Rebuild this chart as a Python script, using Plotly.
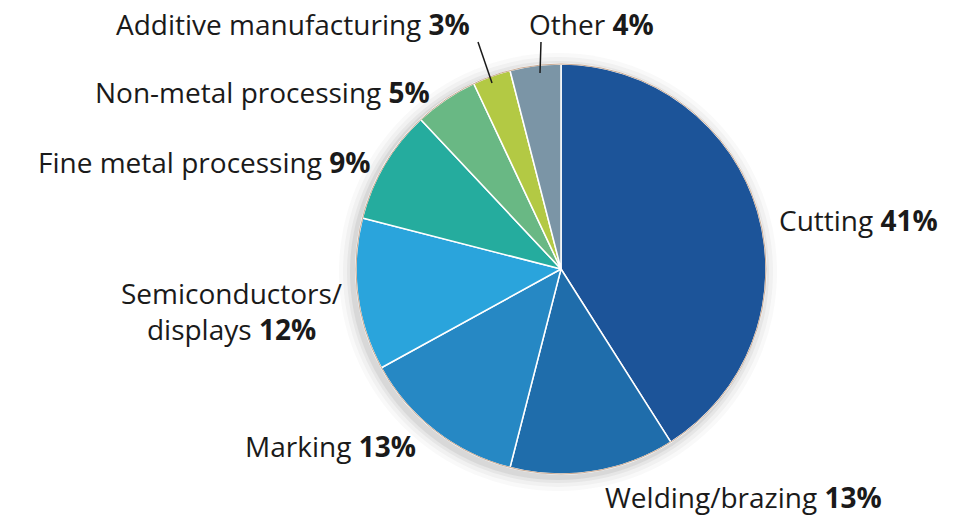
import plotly.graph_objects as go

categories = ["Cutting", "Welding/brazing", "Marking", "Semiconductors/displays",
              "Fine metal processing", "Non-metal processing", "Additive manufacturing", "Other"]
values = [41, 13, 13, 12, 9, 5, 3, 4]
colors = ["#1c5499", "#1f6dab", "#2688c4", "#2aa4dc", "#25ac9e", "#69b884", "#b3c944", "#7b95a6"]

W, H = 959, 516
cx, cy, r = 561, 269, 205

def px(x):
    return x / W

def py(y):
    return 1 - y / H

shadow = [(14, 0.03), (10, 0.04), (6, 0.055), (3, 0.075)]

fig = go.Figure(go.Pie(
    labels=categories, values=values, sort=False, direction="clockwise", rotation=0,
    marker=dict(colors=colors, line=dict(color="white", width=1.5)),
    textinfo="none", hoverinfo="label+percent", showlegend=False,
    domain=dict(x=[px(cx - r), px(cx + r)], y=[py(cy + r), py(cy - r)]),
))

# soft drop shadow behind the pie (offset down-left)
for k, op in shadow:
    fig.add_shape(type="circle", xref="paper", yref="paper", layer="below",
                  x0=px(cx - r - k - 3), x1=px(cx + r + k - 3),
                  y0=py(cy + r + k + 3), y1=py(cy - r - k + 3),
                  fillcolor=f"rgba(60,60,60,{op})", line=dict(width=0))

# thin warm outline around the pie
fig.add_shape(type="circle", xref="paper", yref="paper", layer="above",
              x0=px(cx - r), x1=px(cx + r), y0=py(cy + r), y1=py(cy - r),
              line=dict(color="#c9ab95", width=1))

FONT = "Open Sans, Lato, sans-serif"
FS = 28

# label text, x (px), y (px), anchor
label_pos = [
    ("Cutting <b>41%</b>", 777, 220, "left"),
    ("Welding/brazing <b>13%</b>", 603, 497, "left"),
    ("Marking <b>13%</b>", 418, 446, "right"),
    ("Semiconductors/<br>displays <b>12%</b>", 231, 311, "center"),
    ("Fine metal processing <b>9%</b>", 372, 162, "right"),
    ("Non-metal processing <b>5%</b>", 432, 92, "right"),
    ("Additive manufacturing <b>3%</b>", 472, 24, "right"),
    ("Other <b>4%</b>", 527, 24, "left"),
]
for txt, x, y, anchor in label_pos:
    fig.add_annotation(text=txt, x=px(x), y=py(y), xref="paper", yref="paper",
                       xanchor=anchor, yanchor="middle", showarrow=False, align="center",
                       font=dict(family=FONT, size=FS, color="#1a1a1a"))

# leader lines
for x0, y0, x1, y1 in [(478, 42, 492, 83), (541, 42, 540, 73)]:
    fig.add_shape(type="line", xref="paper", yref="paper",
                  x0=px(x0), y0=py(y0), x1=px(x1), y1=py(y1),
                  line=dict(color="#1a1a1a", width=1.5))

fig.update_layout(width=W, height=H, margin=dict(l=0, r=0, t=0, b=0),
                  paper_bgcolor="white", plot_bgcolor="white")
fig.write_html("out.html", config={"displayModeBar": False},
               post_script="document.body.style.margin='0';document.body.style.overflow='hidden';")
